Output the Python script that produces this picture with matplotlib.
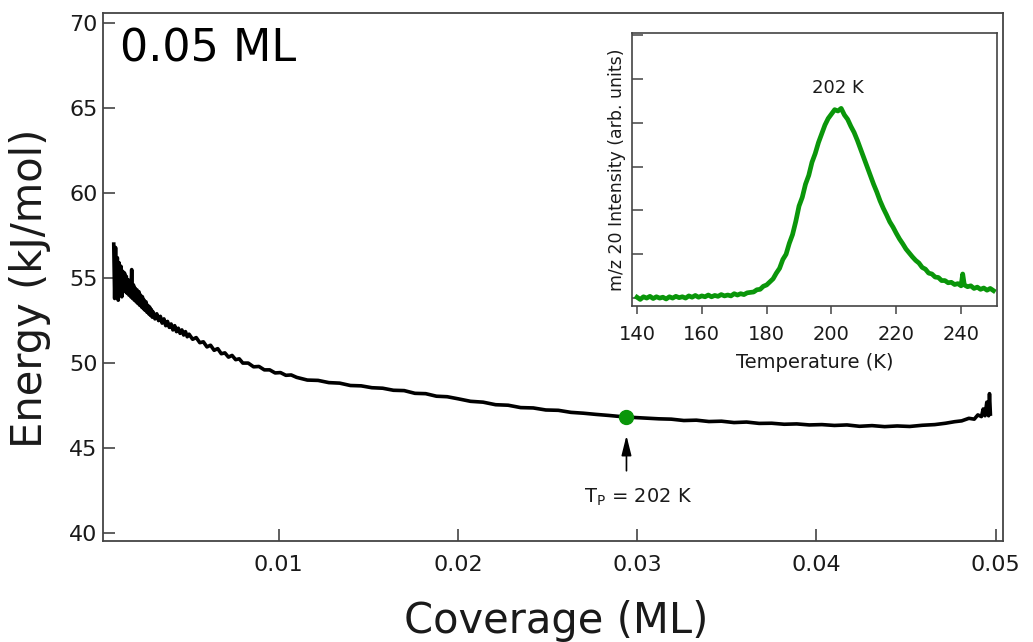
import numpy as np
import matplotlib
matplotlib.use("Agg")
import matplotlib.pyplot as plt

plt.rcParams['font.family'] = ['DejaVu Sans']

# binding energy vs coverage
coverage = [0.00080, 0.00085, 0.00090, 0.00095, 0.00100, 0.00105, 0.00110, 0.00115, 0.00120, 0.00125,
            0.00130, 0.00135, 0.00140, 0.00145, 0.00150, 0.00155, 0.00160, 0.00165, 0.00170, 0.00175,
            0.00180, 0.00185, 0.00190, 0.00195, 0.00200, 0.00205, 0.00210, 0.00215, 0.00220, 0.00225,
            0.00230, 0.00235, 0.00240, 0.00245, 0.00250, 0.00255, 0.00260, 0.00265, 0.00270, 0.00275,
            0.00280, 0.00285, 0.00290, 0.00295, 0.00300,
            0.0031, 0.0032, 0.0033, 0.0034, 0.0035, 0.0036, 0.0037, 0.0038, 0.0039, 0.0040,
            0.0041, 0.0042, 0.0043, 0.0044, 0.0045, 0.0046, 0.0047, 0.0048, 0.0049, 0.0050,
            0.0052, 0.0054, 0.0056, 0.0058, 0.0060, 0.0062, 0.0064, 0.0066, 0.0068, 0.0070,
            0.0072, 0.0074, 0.0076, 0.0078, 0.0080,
            0.0083, 0.0086, 0.0089, 0.0092, 0.0095, 0.0098, 0.0101, 0.0104, 0.0107, 0.0110,
            0.0116, 0.0122, 0.0128, 0.0134, 0.0140, 0.0146, 0.0152, 0.0158, 0.0164, 0.0170,
            0.0176, 0.0182, 0.0188, 0.0194, 0.0200, 0.0207, 0.0214, 0.0221, 0.0228, 0.0235,
            0.0242, 0.0249, 0.0256, 0.0263, 0.0270, 0.0277, 0.0284, 0.0291, 0.0298, 0.0305,
            0.0312, 0.0319, 0.0326, 0.0333, 0.0340, 0.0347, 0.0354, 0.0361, 0.0368, 0.0375,
            0.0382, 0.0389, 0.0396, 0.0403, 0.0410, 0.0417, 0.0424, 0.0431, 0.0438, 0.0445,
            0.0452, 0.0459, 0.0466, 0.0472, 0.0477, 0.0481, 0.0485, 0.0488, 0.0490, 0.0492,
            0.0493, 0.0494, 0.0495, 0.0496, 0.04965, 0.0497]
energy = [57.0, 53.8, 56.8, 54.0, 56.2, 53.7, 55.9, 54.2, 55.7, 53.9,
          55.4, 54.3, 55.3, 54.2, 55.1, 54.1, 54.9, 54.0, 54.8, 53.9,
          55.5, 53.8, 54.6, 53.7, 54.4, 53.6, 54.3, 53.5, 54.2, 53.4,
          54.0, 53.3, 53.9, 53.2, 53.7, 53.1, 53.6, 53.0, 53.4, 52.9,
          53.3, 52.8, 53.15, 52.7, 53.0,
          52.6, 52.9, 52.5, 52.75, 52.35, 52.6, 52.2, 52.45, 52.1, 52.3,
          51.95, 52.2, 51.85, 52.05, 51.75, 51.95, 51.65, 51.85, 51.55, 51.7,
          51.4, 51.5, 51.2, 51.25, 50.95, 51.05, 50.75, 50.85, 50.55, 50.6,
          50.35, 50.45, 50.2, 50.25, 50.0,
          50.0, 49.78, 49.8, 49.6, 49.6, 49.42, 49.44, 49.28, 49.3, 49.16,
          49.0, 48.98, 48.85, 48.82, 48.68, 48.66, 48.55, 48.52, 48.4, 48.38,
          48.22, 48.2, 48.05, 48.02, 47.9, 47.75, 47.7, 47.55, 47.52, 47.38,
          47.36, 47.24, 47.22, 47.1, 47.05, 46.98, 46.92, 46.85, 46.8, 46.76,
          46.72, 46.7, 46.62, 46.64, 46.56, 46.58, 46.5, 46.53, 46.45, 46.46,
          46.4, 46.42, 46.36, 46.38, 46.33, 46.36, 46.28, 46.32, 46.26, 46.3,
          46.27, 46.34, 46.38, 46.46, 46.55, 46.6, 46.75, 46.7, 46.95, 46.85,
          47.3, 46.9, 47.7, 46.9, 48.2, 47.0]

# TPD trace for the inset
temp = [140, 141, 142, 143, 144, 145, 146, 147, 148, 149, 150, 151, 152, 153, 154, 155,
        156, 157, 158, 159, 160, 161, 162, 163, 164, 165, 166, 167, 168, 169, 170, 171,
        172, 173, 174, 175, 176, 177, 178, 179, 180, 181, 182, 183, 184, 185, 186, 187,
        188, 189, 190, 191, 192, 193, 194, 195, 196, 197, 198, 199, 200, 201, 202, 203,
        204, 205, 206, 207, 208, 209, 210, 211, 212, 213, 214, 215, 216, 217, 218, 219,
        220, 221, 222, 223, 224, 225, 226, 227, 228, 229, 230, 231, 232, 233, 234, 235,
        236, 237, 238, 239, 240, 240.5, 241, 242, 243, 244, 245, 246, 247, 248, 249, 250]
signal = [0.02, -0.03, 0.03, 0.0, 0.04, -0.01, 0.03, 0.0, 0.02, -0.02, 0.03, 0.0, 0.04, 0.01, 0.03, 0.0,
          0.05, 0.02, 0.06, 0.02, 0.05, 0.03, 0.07, 0.03, 0.06, 0.04, 0.08, 0.05, 0.07, 0.05, 0.1, 0.07,
          0.1, 0.08, 0.12, 0.13, 0.14, 0.19, 0.2, 0.27, 0.3, 0.37, 0.44, 0.57, 0.68, 0.88, 1.0, 1.25,
          1.45, 1.75, 2.1, 2.3, 2.6, 2.8, 3.1, 3.3, 3.55, 3.75, 3.95, 4.1, 4.2, 4.3, 4.27, 4.33,
          4.18, 4.08, 3.92, 3.78, 3.6, 3.4, 3.2, 3.0, 2.8, 2.6, 2.42, 2.22, 2.05, 1.9, 1.74, 1.62,
          1.48, 1.35, 1.24, 1.12, 1.03, 0.94, 0.86, 0.8, 0.7, 0.66, 0.57, 0.55, 0.48, 0.47, 0.4, 0.4,
          0.35, 0.36, 0.31, 0.33, 0.28, 0.55, 0.3, 0.26, 0.28, 0.22, 0.25, 0.2, 0.23, 0.18, 0.22, 0.17]

tp_coverage = 0.0294
tp_energy = 46.84

green = '#0a960a'
spine_col = '#444444'
text_col = '#1a1a1a'

fig = plt.figure(figsize=(10.33, 6.42), dpi=100)
ax = fig.add_axes([0.0997, 0.1573, 0.8712, 0.8225])

ax.plot(coverage, energy, color='black', lw=2.6, solid_joinstyle='round')
ax.plot([tp_coverage], [tp_energy], 'o', color=green, ms=10, zorder=5)

ax.set_xlim(0.0002, 0.0504)
ax.set_ylim(39.53, 70.6)
ax.set_xticks([0.01, 0.02, 0.03, 0.04, 0.05])
ax.set_xticklabels(['0.01', '0.02', '0.03', '0.04', '0.05'])
ax.set_yticks([40, 45, 50, 55, 60, 65, 70])
ax.tick_params(axis='both', direction='in', length=8.5, width=1.2, color=spine_col,
               labelsize=16, labelcolor=text_col)
ax.tick_params(axis='x', pad=10)
ax.tick_params(axis='y', pad=4)
for s in ax.spines.values():
    s.set_color(spine_col)
    s.set_linewidth(1.3)

ax.annotate('', xy=(tp_coverage, 45.9), xytext=(tp_coverage, 43.5),
            arrowprops=dict(arrowstyle='-|>,head_length=0.6,head_width=0.15',
                            mutation_scale=20, color='black', lw=1.2))
ax.text(0.03006, 41.78, r'T$_\mathrm{P}$ = 202 K', ha='center', va='baseline',
        fontsize=14, color=text_col)

fig.text(120 / 1033, 1 - 62 / 642, '0.05 ML', fontsize=32, color='black',
         ha='left', va='baseline')
fig.text(0.029, 0.5514, 'Energy (kJ/mol)', rotation=90, fontsize=30,
         ha='center', va='center', color=text_col)
fig.text(556 / 1033, 0.014, 'Coverage (ML)', fontsize=30, ha='center',
         va='baseline', color=text_col)

# inset
axi = fig.add_axes([0.6118, 0.5234, 0.3534, 0.4252])
axi.plot(temp, signal, color=green, lw=3.4, solid_joinstyle='round')
axi.set_xlim(138.46, 251.1)
axi.set_ylim(-0.18, 6.05)
axi.set_xticks([140, 160, 180, 200, 220, 240])
axi.set_yticks([0, 1, 2, 3, 4, 5, 6])
axi.set_yticklabels([])
axi.tick_params(axis='x', direction='out', length=6, width=1.1, color=spine_col,
                labelsize=14, labelcolor=text_col, pad=8)
axi.tick_params(axis='y', direction='in', length=8, width=1.1, color=spine_col)
for s in axi.spines.values():
    s.set_color(spine_col)
    s.set_linewidth(1.2)
axi.text(202, 4.8, '202 K', ha='center', va='center', fontsize=13, color=text_col)
axi.set_xlabel('Temperature (K)', fontsize=14, color=text_col, va='top')
axi.xaxis.set_label_coords(0.5, -0.172)
axi.set_ylabel('m/z 20 Intensity (arb. units)', fontsize=12.5, color=text_col, va='center')
axi.yaxis.set_label_coords(-0.041, 0.5)

fig.savefig('out.png', dpi=100)
